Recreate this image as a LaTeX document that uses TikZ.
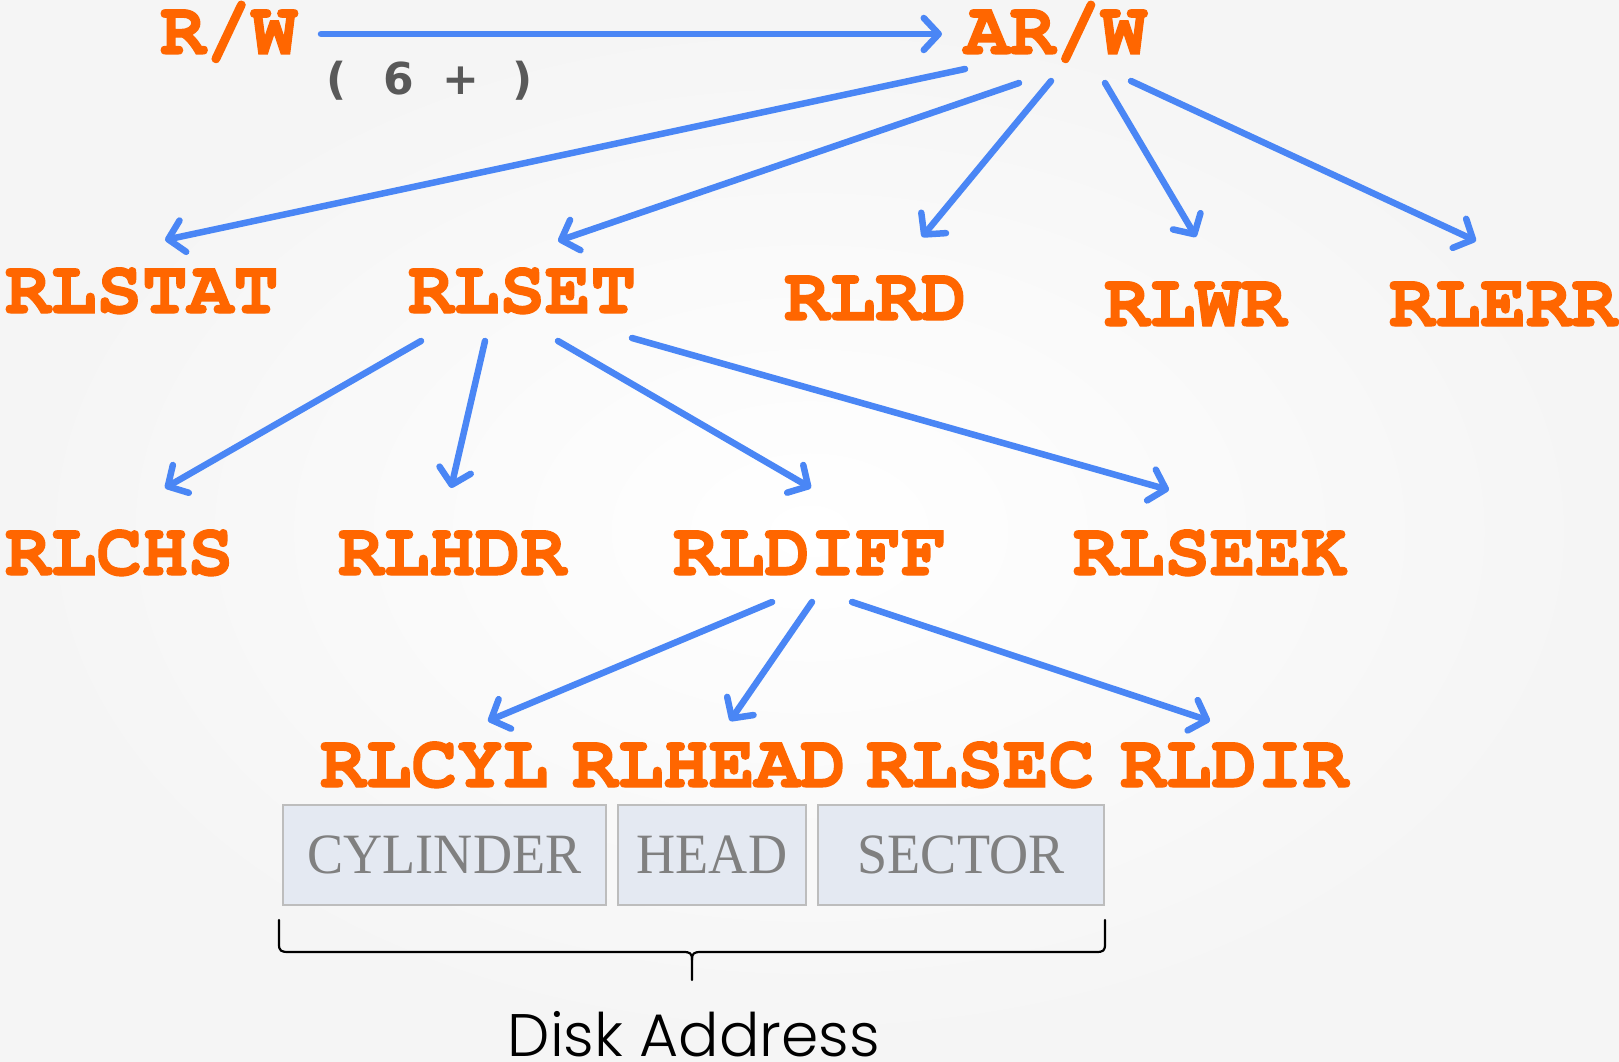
\documentclass[tikz,border=0pt]{standalone}
\usepackage{fontspec}
\setmainfont{Liberation Serif}
\newfontfamily\courfont{TeX Gyre Cursor}[BoldFeatures={FakeBold=1.6}]
\newfontfamily\gothfont{Poppins Light}
\newfontfamily\cntfont{DejaVu Sans}
\newfontfamily\boxfont{Liberation Serif}[FakeStretch=0.95]
\usetikzlibrary{arrows.meta,calc}
\definecolor{orng}{HTML}{FF6600}
\definecolor{ablue}{HTML}{4A86F5}
\definecolor{boxfill}{HTML}{E4E9F2}
\definecolor{boxline}{HTML}{BDBDBD}
\definecolor{boxtext}{HTML}{808080}
\definecolor{parengray}{HTML}{595959}
\tikzset{
  lab/.style={inner sep=0pt, anchor=base west, text=orng,
    font=\courfont\bfseries\fontsize{76}{76}\selectfont},
  conn/.style={draw=ablue, line width=6.5pt, line cap=round,
    -{Straight Barb[round,length=15pt,width=32pt,line width=6.5pt]}},
  field/.style={draw=boxline, fill=boxfill, line width=2pt, inner sep=0pt,
    minimum height=100pt, text=boxtext,
    font=\boxfont\fontsize{57}{57}\selectfont},
  bracepath/.style={draw=black, line width=2.2pt, line cap=round, line join=round}
}
\begin{document}
\begin{tikzpicture}[x=1pt,y=-1pt]
\useasboundingbox (0,0) rectangle (1619,1062);
\shade[inner color=white, outer color=black!4] (0,0) rectangle (1619,1062);

% labels
\node[lab] (rw) at (160,54) {R/W};
\node[lab] (arw) at (964,54) {AR/W};
\node[inner sep=0pt, anchor=base, text=parengray,
  font=\cntfont\bfseries\fontsize{44}{44}\selectfont] (cnt) at (430,95)
  {\makebox[62pt]{(}\makebox[62pt]{6}\makebox[62pt]{+}\makebox[62pt]{)}};

\node[lab] (rlstat) at (5,313) {RLSTAT};
\node[lab] (rlset) at (408,313) {RLSET};
\node[lab] (rlrd) at (784,320) {RLRD};
\node[lab] (rlwr) at (1104,326) {RLWR};
\node[lab] (rlerr) at (1389,326) {RLERR};

\node[lab] (rlchs) at (5,575) {RLCHS};
\node[lab] (rlhdr) at (338,575) {RLHDR};
\node[lab] (rldiff) at (673,575) {RLDIFF};
\node[lab] (rlseek) at (1073,575) {RLSEEK};

\node[lab] (rlcyl) at (320,787) {RLCYL};
\node[lab] (rlhead) at (572,787) {RLHEAD};
\node[lab] (rlsec) at (866,787) {RLSEC};
\node[lab] (rldir) at (1120,787) {RLDIR};

% connectors
\draw[conn] ([shift={(161,-20)}]rw.base west) -- ([shift={(-22,-20)}]arw.base west);
\draw[conn] ([shift={(1,15)}]arw.base west) -- ([shift={(160,-73)}]rlstat.base west);
\draw[conn] ([shift={(55,29)}]arw.base west) -- ([shift={(150,-72)}]rlset.base west);
\draw[conn] ([shift={(87,27)}]arw.base west) -- ([shift={(138,-83)}]rlrd.base west);
\draw[conn] ([shift={(141,29)}]arw.base west) -- ([shift={(92,-89)}]rlwr.base west);
\draw[conn] ([shift={(167,27)}]arw.base west) -- ([shift={(87,-85)}]rlerr.base west);

\draw[conn] ([shift={(13,28)}]rlset.base west) -- ([shift={(160,-87)}]rlchs.base west);
\draw[conn] ([shift={(77,28)}]rlset.base west) -- ([shift={(113,-87)}]rlhdr.base west);
\draw[conn] ([shift={(150,28)}]rlset.base west) -- ([shift={(138,-87)}]rldiff.base west);
\draw[conn] ([shift={(224,25)}]rlset.base west) -- ([shift={(96,-85)}]rlseek.base west);

\draw[conn] ([shift={(99,27)}]rldiff.base west) -- ([shift={(168,-66)}]rlcyl.base west);
\draw[conn] ([shift={(139,27)}]rldiff.base west) -- ([shift={(158,-66)}]rlhead.base west);
\draw[conn] ([shift={(179,27)}]rldiff.base west) -- ([shift={(90,-66)}]rldir.base west);

% address fields
\node[field, minimum width=323pt] (cyl) at (444.5,855) {CYLINDER};
\node[field, minimum width=188pt] (head) at (712,855) {HEAD};
\node[field, minimum width=286pt] (sect) at (961,855) {SECTOR};

% brace
\path[bracepath] (279,920) -- (279,944) .. controls (279,951) and (281,952) .. (289,952)
  -- (683,952) .. controls (690,952) and (692,953) .. (692,960) -- (692,980);
\path[bracepath] (692,960) .. controls (692,953) and (694,952) .. (701,952)
  -- (1096,952) .. controls (1103,952) and (1105,951) .. (1105,944) -- (1105,920);

\node[inner sep=0pt, anchor=base, font=\gothfont\fontsize{60}{60}\selectfont] (disk) at (694,1056) {Disk Address};
\end{tikzpicture}
\end{document}
